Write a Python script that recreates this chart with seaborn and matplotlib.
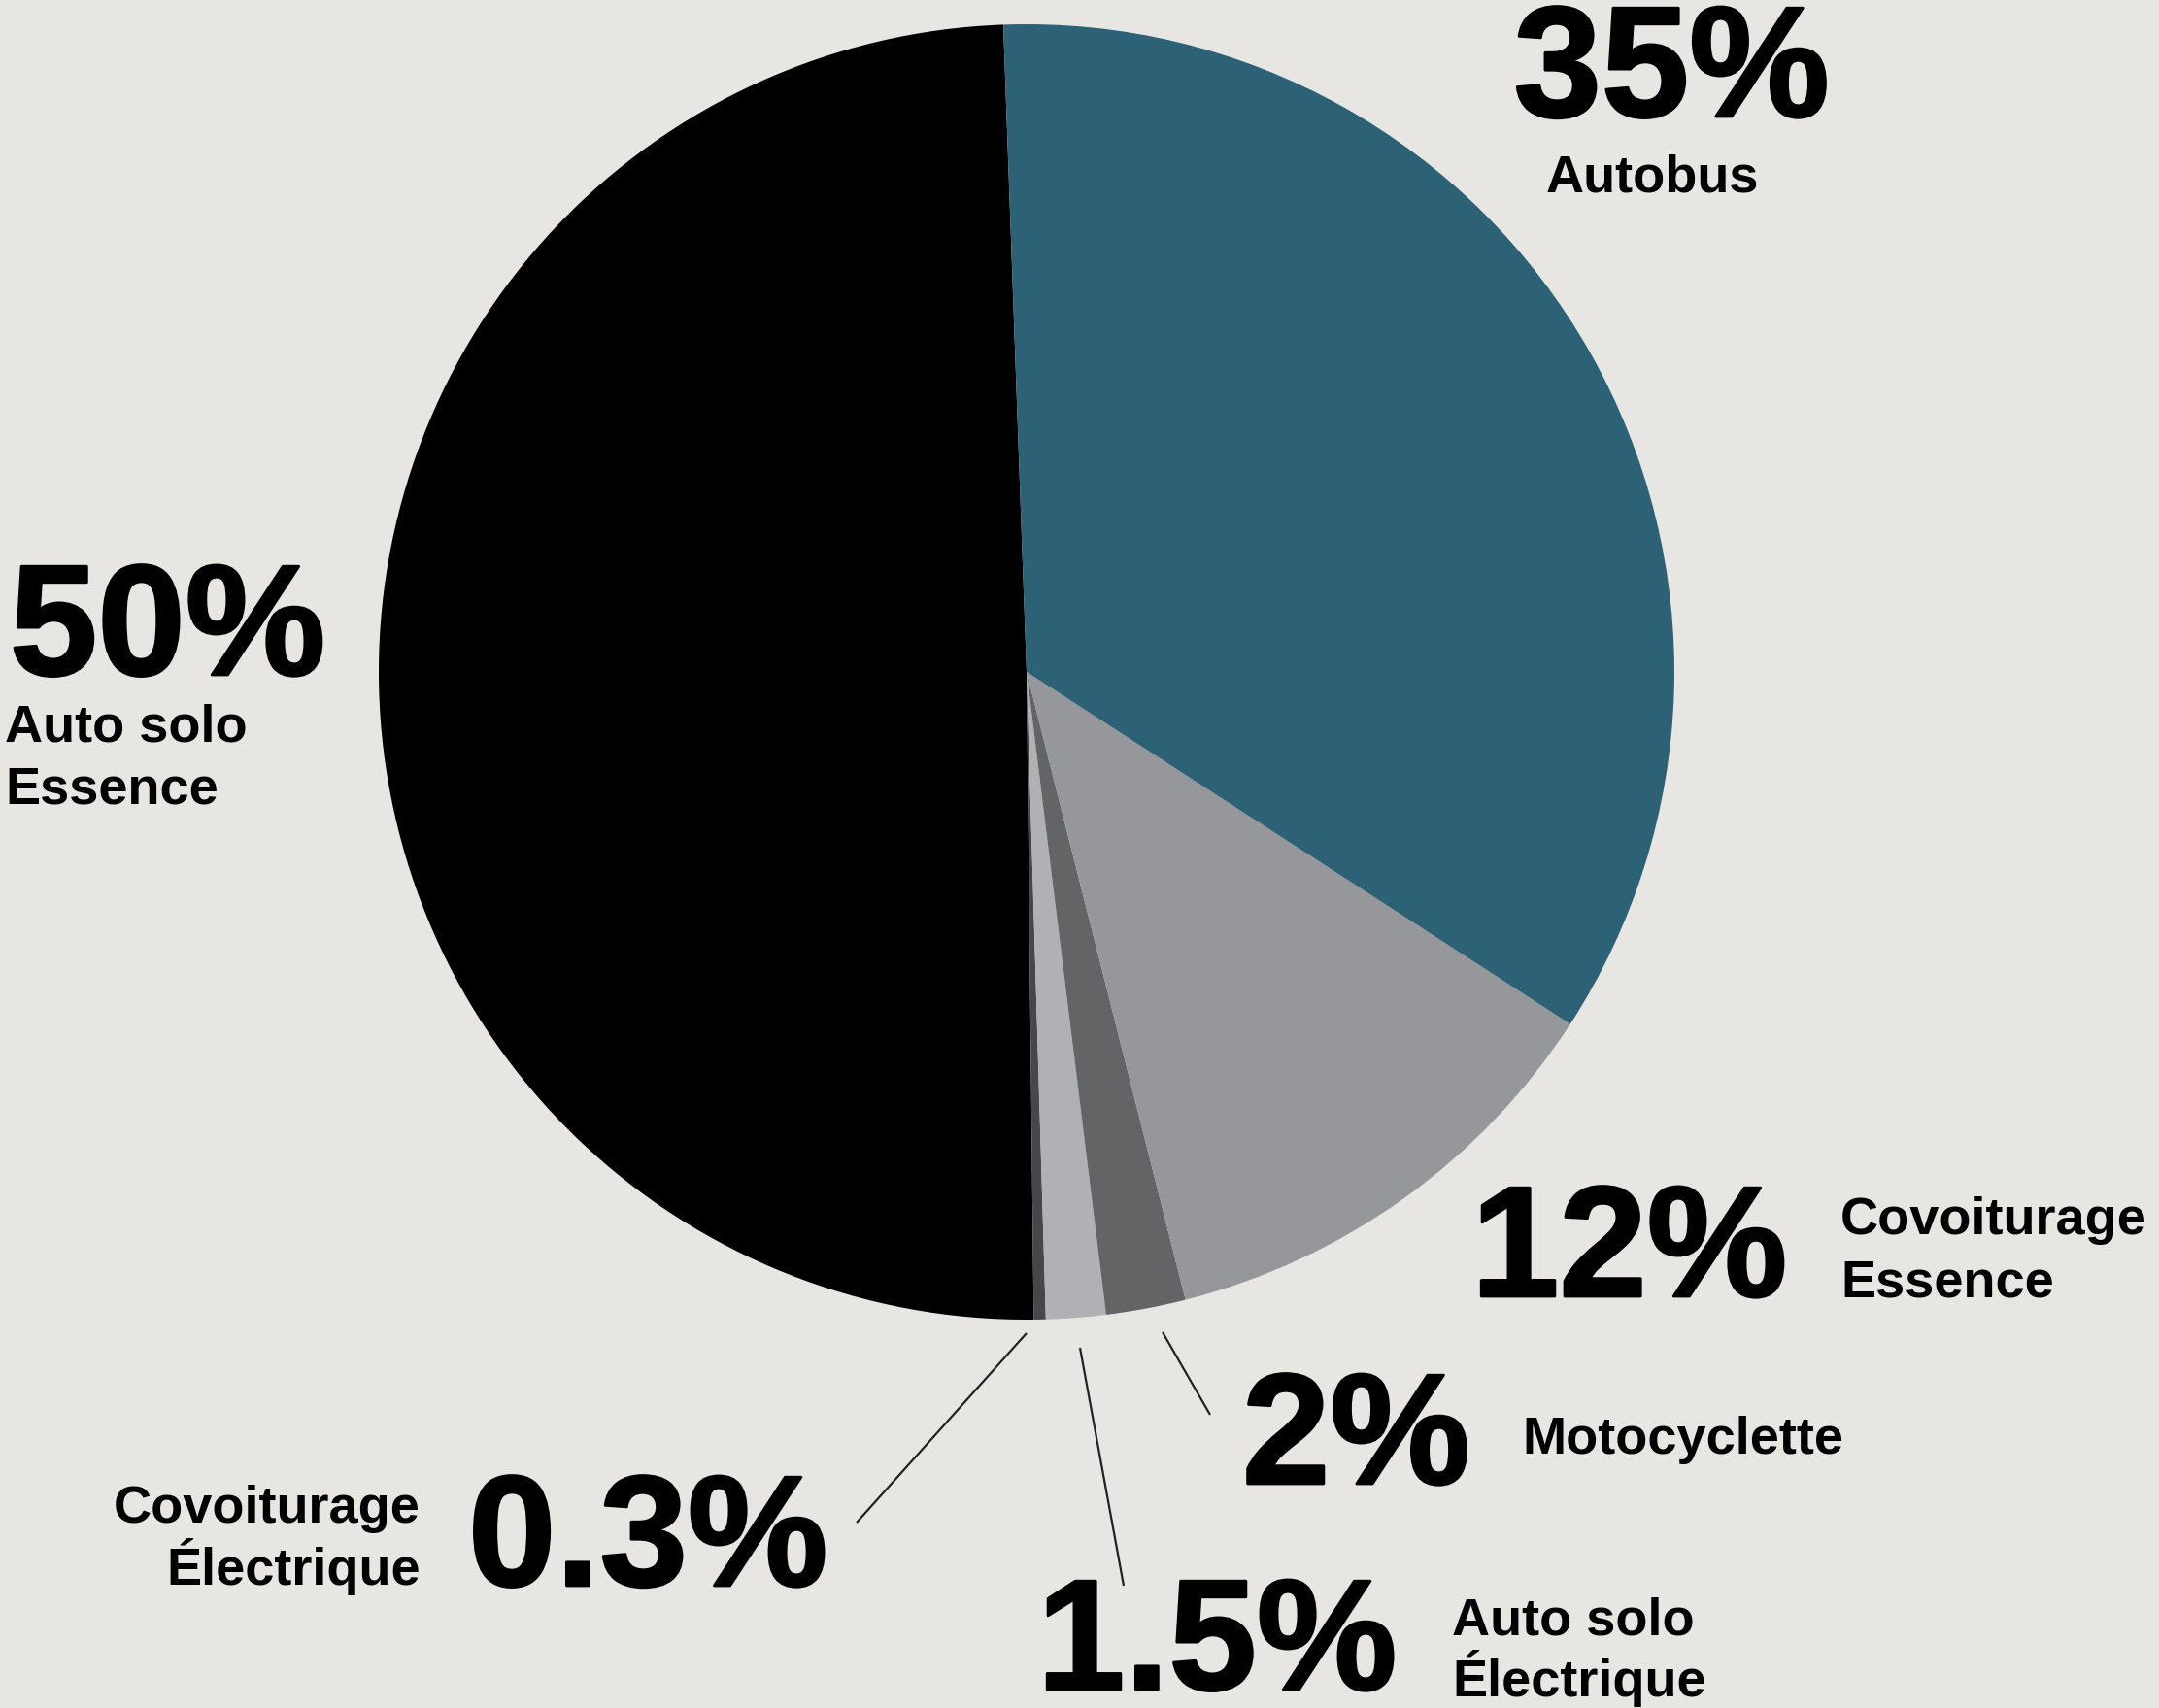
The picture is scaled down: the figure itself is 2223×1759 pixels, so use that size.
import matplotlib
matplotlib.use("Agg")
import matplotlib.pyplot as plt
import matplotlib.patheffects as pe
import seaborn as sns

# data, in pie order (counterclockwise from the top)
modes = ["Auto solo\nEssence", "Covoiturage\nÉlectrique", "Auto solo\nÉlectrique",
         "Motocyclette", "Covoiturage\nEssence", "Autobus"]
shares = [50, 0.3, 1.5, 2, 12, 35]
share_labels = ["50%", "0.3%", "1.5%", "2%", "12%", "35%"]
colors = ["#000000", "#46474a", "#b0b1b5", "#646466", "#96979b", "#2d6175"]

W, H = 2223, 1759
BG = "#e7e6e2"

sns.set_theme(style="white")
plt.rcParams["font.family"] = ["Liberation Sans", "DejaVu Sans"]

fig = plt.figure(figsize=(W / 100, H / 100), dpi=100, facecolor=BG)
ax = fig.add_axes([0, 0, 1, 1])
ax.set_facecolor(BG)


def py(y):
    # pixel row (from top) -> data y
    return H - y


ax.pie(shares, colors=colors, startangle=92.06, counterclock=True,
       center=(1057, py(692)), radius=667,
       wedgeprops=dict(linewidth=0))
ax.set_xlim(0, W)
ax.set_ylim(0, H)
ax.set_aspect("equal")
ax.axis("off")

big = dict(fontsize=117, fontweight="bold", color="black",
           path_effects=[pe.withStroke(linewidth=2, foreground="black")])
small = dict(fontsize=39, fontweight="bold", color="black")

# big percentage labels: (x, baseline row, ha)
pct_pos = [(10, 695, "left"), (482, 1633, "left"), (1068, 1740, "left"),
           (1279, 1528, "left"), (1515, 1335, "left"), (1721, 120, "center")]
# category labels: (x, first baseline row, ha)
name_pos = [(5, 763, "left"), (433, 1568, "right"), (1495, 1683, "left"),
            (1567, 1497, "left"), (1895, 1271, "left"), (1701, 197, "center")]

for lab, (x, y, ha) in zip(share_labels, pct_pos):
    ax.text(x, py(y), lab, ha=ha, va="baseline", **big)

for name, (x, y, ha) in zip(modes, name_pos):
    for i, line in enumerate(name.split("\n")):
        ax.text(x, py(y + 64 * i), line, ha=ha, va="baseline", **small)

# leader lines for the small slices
leaders = [((1057, 1373), (882, 1568)),
           ((1112, 1388), (1157, 1633)),
           ((1197, 1372), (1246, 1457))]
for (x0, y0), (x1, y1) in leaders:
    ax.plot([x0, x1], [py(y0), py(y1)], color="#222222", lw=1.6,
            solid_capstyle="butt")

fig.savefig("out.png", dpi=100, facecolor=BG)
